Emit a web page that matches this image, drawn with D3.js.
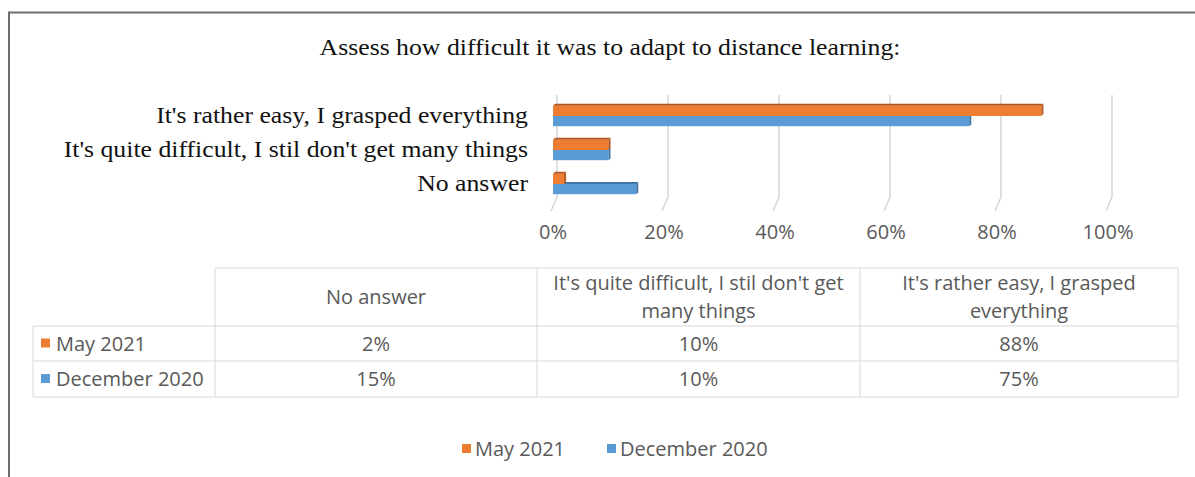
<!DOCTYPE html>
<html>
<head>
<meta charset="utf-8">
<script src="https://cdn.jsdelivr.net/npm/d3@7"></script>
<style>
  body { margin: 0; background: #fff; }
  svg { display: block; }
</style>
</head>
<body>
<svg id="chart" width="1195" height="477"></svg>
<script>
// chart data
var title = "Assess how difficult it was to adapt to distance learning:";
var categories = ["No answer", "It's quite difficult, I stil don't get many things", "It's rather easy, I grasped everything"];
var headerLines = [["No answer"], ["It's quite difficult, I stil don't get", "many things"], ["It's rather easy, I grasped", "everything"]];
var seriesNames = ["May 2021", "December 2020"];
var may2021 = [0.02, 0.10, 0.88];
var dec2020 = [0.15, 0.10, 0.75];
var ticks = [0, 0.2, 0.4, 0.6, 0.8, 1.0];

var colors = { "May 2021": "#ED7D31", "December 2020": "#5B9BD5" };
var darker = { "May 2021": "#B4561C", "December 2020": "#3E75A8" };

var series = [
  { name: seriesNames[0], values: may2021 },
  { name: seriesNames[1], values: dec2020 }
];

var svg = d3.select("#chart");
var sans = "'Open Sans', sans-serif";
var serif = "'Liberation Serif', 'Times New Roman', serif";
var grey = "#595959";
var sansSize = 20;
var serifSize = 23;
var serifStretch = 1.12;

// frame (only left and top edges are visible in the crop)
svg.append("path")
  .attr("d", "M9,477 V12.5 H1195")
  .attr("fill", "none")
  .attr("stroke", "#6d6d6d")
  .attr("stroke-width", 2);

svg.append("text")
  .attr("transform", "translate(610,55) scale(" + serifStretch + ",1)")
  .attr("text-anchor", "middle")
  .attr("font-family", serif)
  .attr("font-size", serifSize)
  .attr("fill", "#111")
  .text(title);

var x = d3.scaleLinear().domain([0, 1]).range([553, 1108]);

// top category first
var y = d3.scaleBand()
  .domain(categories.slice().reverse())
  .range([99, 201])
  .paddingInner(0.4)
  .paddingOuter(0.2);

var ys = d3.scaleBand()
  .domain(seriesNames)
  .range([0, y.bandwidth()]);

// slanted gridlines of the 3D back wall
svg.append("g").selectAll("path")
  .data(ticks)
  .enter().append("path")
  .attr("d", function(d)
  {
    return "M" + (x(d) + 4) + ",95 V197 L" + (x(d) - 2) + ",211";
  })
  .attr("fill", "none")
  .attr("stroke", "#d4d4d4")
  .attr("stroke-width", 1.4);

svg.append("g").selectAll("text")
  .data(ticks)
  .enter().append("text")
  .attr("x", function(d) { return x(d); })
  .attr("y", 239)
  .attr("text-anchor", "middle")
  .attr("font-family", sans)
  .attr("font-size", sansSize)
  .attr("fill", grey)
  .text(d3.format(".0%"));

// category labels
svg.append("g").selectAll("text")
  .data(categories)
  .enter().append("text")
  .attr("transform", function(d)
  {
    return "translate(528," + (y(d) + y.bandwidth() / 2 + 7) + ") scale(" + serifStretch + ",1)";
  })
  .attr("text-anchor", "end")
  .attr("font-family", serif)
  .attr("font-size", serifSize)
  .attr("fill", "#111")
  .text(function(d) { return d; });

// bars, drawn blue first so the orange top face sits over it
var groups = svg.append("g").selectAll("g")
  .data(series.slice().reverse())
  .enter().append("g");

groups.each(function(s)
{
  var g = d3.select(this);
  var h = ys.bandwidth();
  s.values.forEach(function(v, i)
  {
    var cy = y(categories[i]) + ys(s.name);
    var x0 = x(0), x1 = x(v);
    g.append("rect")
      .attr("x", x0)
      .attr("y", cy)
      .attr("width", x1 - x0)
      .attr("height", h)
      .attr("fill", colors[s.name]);
    // top face
    g.append("path")
      .attr("d", "M" + x0 + "," + cy + " L" + (x0 + 2) + "," + (cy - 2) + " H" + (x1 + 2) + " L" + x1 + "," + cy + "Z")
      .attr("fill", darker[s.name]);
    // end face
    g.append("path")
      .attr("d", "M" + x1 + "," + cy + " L" + (x1 + 2) + "," + (cy - 2) + " V" + (cy + h - 2) + " L" + x1 + "," + (cy + h) + "Z")
      .attr("fill", darker[s.name]);
  });
});

// data table
var colX = [33, 215, 537, 860, 1178];
var rowY = [268, 326, 361, 397];
var lineColor = "#d9d9d9";
var table = svg.append("g");

table.append("path")
  .attr("d", "M" + colX[1] + "," + rowY[0] + " H" + colX[4] + " M" + colX[0] + "," + rowY[1] + " H" + colX[4] +
    " M" + colX[0] + "," + rowY[2] + " H" + colX[4] + " M" + colX[0] + "," + rowY[3] + " H" + colX[4])
  .attr("stroke", lineColor)
  .attr("fill", "none");

table.selectAll(".vline")
  .data(colX)
  .enter().append("line")
  .attr("class", "vline")
  .attr("x1", function(d) { return d; })
  .attr("x2", function(d) { return d; })
  .attr("y1", function(d, i) { return i === 0 ? rowY[1] : rowY[0]; })
  .attr("y2", rowY[3])
  .attr("stroke", lineColor);

headerLines.forEach(function(lines, c)
{
  var cx = (colX[c + 1] + colX[c + 2]) / 2;
  var t = table.append("text")
    .attr("text-anchor", "middle")
    .attr("font-family", sans)
    .attr("font-size", sansSize)
    .attr("fill", grey);
  var top = lines.length === 1 ? 304 : 290;
  lines.forEach(function(l, k)
  {
    t.append("tspan")
      .attr("x", cx)
      .attr("y", top + k * 28)
      .text(l);
  });
});

series.forEach(function(s, r)
{
  var mid = (rowY[r + 1] + rowY[r + 2]) / 2;
  table.append("rect")
    .attr("x", 41)
    .attr("y", mid - 5)
    .attr("width", 9)
    .attr("height", 9)
    .attr("fill", colors[s.name]);
  table.append("text")
    .attr("x", 56)
    .attr("y", mid + 7)
    .attr("font-family", sans)
    .attr("font-size", sansSize)
    .attr("fill", grey)
    .text(s.name);
  s.values.forEach(function(v, c)
  {
    table.append("text")
      .attr("x", (colX[c + 1] + colX[c + 2]) / 2)
      .attr("y", mid + 7)
      .attr("text-anchor", "middle")
      .attr("font-family", sans)
      .attr("font-size", sansSize)
      .attr("fill", grey)
      .text(d3.format(".0%")(v));
  });
});

// legend
var legendX = [462, 607];
var legend = svg.append("g").selectAll("g")
  .data(seriesNames)
  .enter().append("g")
  .attr("transform", function(d, i) { return "translate(" + legendX[i] + ",449)"; });

legend.append("rect")
  .attr("x", 0)
  .attr("y", -5)
  .attr("width", 9)
  .attr("height", 9)
  .attr("fill", function(d) { return colors[d]; });

legend.append("text")
  .attr("x", 13)
  .attr("y", 7)
  .attr("font-family", sans)
  .attr("font-size", sansSize)
  .attr("fill", grey)
  .text(function(d) { return d; });
</script>
</body>
</html>
